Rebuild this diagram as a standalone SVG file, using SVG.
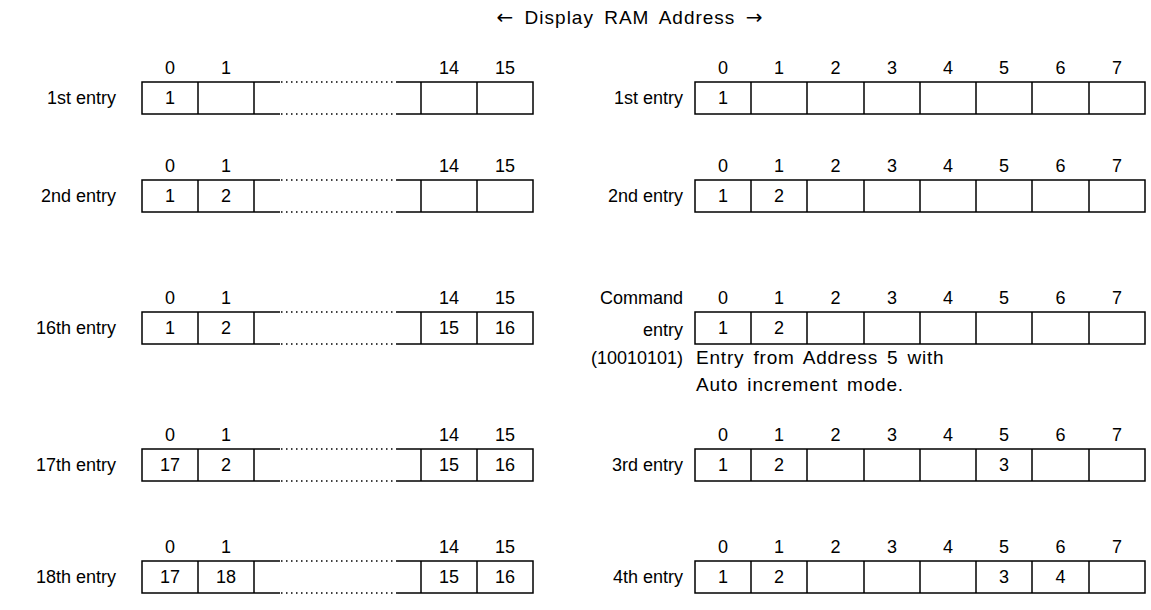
<svg xmlns="http://www.w3.org/2000/svg" width="1151" height="610" viewBox="0 0 1151 610">
<style>
text{font-family:"Liberation Sans","DejaVu Sans",sans-serif;font-size:18px;fill:#000}
.c{text-anchor:middle}
.e{text-anchor:end}
.ar{font-family:"DejaVu Sans",sans-serif;font-size:20px}
.t{font-size:19px;letter-spacing:1px;word-spacing:4px}
.s{font-size:19px;letter-spacing:0.8px;word-spacing:3px}
.b{fill:none;stroke:#000;stroke-width:1.5}
.d{fill:none;stroke:#000;stroke-width:1.5;stroke-dasharray:1.5 3.5}
.w{fill:#fff;stroke:none}
</style>
<defs>
<g id="lbox">
<rect class="b" x="142" y="0" width="391" height="32"/>
<line class="b" x1="198" y1="0" x2="198" y2="32"/>
<line class="b" x1="254" y1="0" x2="254" y2="32"/>
<line class="b" x1="421" y1="0" x2="421" y2="32"/>
<line class="b" x1="477" y1="0" x2="477" y2="32"/>
<rect class="w" x="280" y="-2" width="117" height="4"/>
<rect class="w" x="280" y="30" width="117" height="4"/>
<line class="d" x1="281" y1="0" x2="397" y2="0"/>
<line class="d" x1="281" y1="32" x2="397" y2="32"/>
</g>
<g id="lidx">
<text class="c" x="170" y="0">0</text>
<text class="c" x="226" y="0">1</text>
<text class="c" x="449" y="0">14</text>
<text class="c" x="505" y="0">15</text>
</g>
<g id="rbox">
<rect class="b" x="695" y="0" width="450" height="32"/>
<line class="b" x1="751" y1="0" x2="751" y2="32"/>
<line class="b" x1="807" y1="0" x2="807" y2="32"/>
<line class="b" x1="864" y1="0" x2="864" y2="32"/>
<line class="b" x1="920" y1="0" x2="920" y2="32"/>
<line class="b" x1="976" y1="0" x2="976" y2="32"/>
<line class="b" x1="1032" y1="0" x2="1032" y2="32"/>
<line class="b" x1="1089" y1="0" x2="1089" y2="32"/>
</g>
<g id="ridx">
<text class="c" x="723" y="0">0</text>
<text class="c" x="779" y="0">1</text>
<text class="c" x="835.5" y="0">2</text>
<text class="c" x="892" y="0">3</text>
<text class="c" x="948" y="0">4</text>
<text class="c" x="1004" y="0">5</text>
<text class="c" x="1060.5" y="0">6</text>
<text class="c" x="1117" y="0">7</text>
</g>
</defs>

<g id="title"><text class="c t" x="630" y="24"><tspan class="ar">←</tspan> Display RAM Address <tspan class="ar">→</tspan></text></g>

<g id="left-1st">
<use href="#lidx" y="74"/>
<use href="#lbox" y="82"/>
<text class="e" x="116" y="104">1st entry</text>
<text class="c" x="170" y="104">1</text>
</g>
<g id="left-2nd">
<use href="#lidx" y="172"/>
<use href="#lbox" y="180"/>
<text class="e" x="116" y="202">2nd entry</text>
<text class="c" x="170" y="202">1</text>
<text class="c" x="226" y="202">2</text>
</g>
<g id="left-16th">
<use href="#lidx" y="304"/>
<use href="#lbox" y="312"/>
<text class="e" x="116" y="334">16th entry</text>
<text class="c" x="170" y="334">1</text>
<text class="c" x="226" y="334">2</text>
<text class="c" x="449" y="334">15</text>
<text class="c" x="505" y="334">16</text>
</g>
<g id="left-17th">
<use href="#lidx" y="441"/>
<use href="#lbox" y="449"/>
<text class="e" x="116" y="471">17th entry</text>
<text class="c" x="170" y="471">17</text>
<text class="c" x="226" y="471">2</text>
<text class="c" x="449" y="471">15</text>
<text class="c" x="505" y="471">16</text>
</g>
<g id="left-18th">
<use href="#lidx" y="553"/>
<use href="#lbox" y="561"/>
<text class="e" x="116" y="583">18th entry</text>
<text class="c" x="170" y="583">17</text>
<text class="c" x="226" y="583">18</text>
<text class="c" x="449" y="583">15</text>
<text class="c" x="505" y="583">16</text>
</g>

<g id="right-1st">
<use href="#ridx" y="74"/>
<use href="#rbox" y="82"/>
<text class="e" x="683" y="104">1st entry</text>
<text class="c" x="723" y="104">1</text>
</g>
<g id="right-2nd">
<use href="#ridx" y="172"/>
<use href="#rbox" y="180"/>
<text class="e" x="683" y="202">2nd entry</text>
<text class="c" x="723" y="202">1</text>
<text class="c" x="779" y="202">2</text>
</g>
<g id="right-command">
<use href="#ridx" y="304"/>
<use href="#rbox" y="312"/>
<text class="e" x="683" y="304">Command</text>
<text class="e" x="683" y="336">entry</text>
<text class="e" x="683" y="364">(10010101)</text>
<text class="s" x="696" y="364">Entry from Address 5 with</text>
<text class="s" x="696" y="391">Auto increment mode.</text>
<text class="c" x="723" y="334">1</text>
<text class="c" x="779" y="334">2</text>
</g>
<g id="right-3rd">
<use href="#ridx" y="441"/>
<use href="#rbox" y="449"/>
<text class="e" x="683" y="471">3rd entry</text>
<text class="c" x="723" y="471">1</text>
<text class="c" x="779" y="471">2</text>
<text class="c" x="1004" y="471">3</text>
</g>
<g id="right-4th">
<use href="#ridx" y="553"/>
<use href="#rbox" y="561"/>
<text class="e" x="683" y="583">4th entry</text>
<text class="c" x="723" y="583">1</text>
<text class="c" x="779" y="583">2</text>
<text class="c" x="1004" y="583">3</text>
<text class="c" x="1060.5" y="583">4</text>
</g>
<g id="connectors"></g>
</svg>
